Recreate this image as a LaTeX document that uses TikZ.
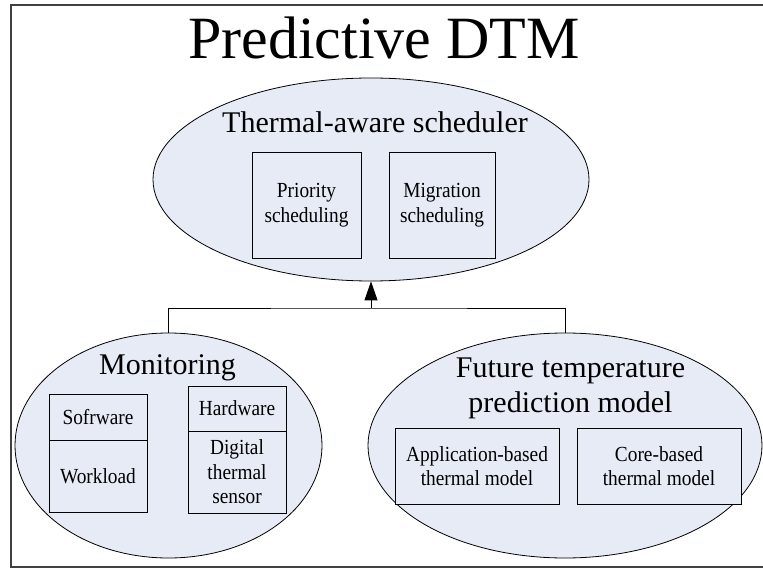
\documentclass[tikz,border=0pt]{standalone}
\usepackage{fontspec}
\setmainfont{Liberation Serif}
\newfontfamily\narrowfont{Liberation Serif}[FakeStretch=0.9]
\usetikzlibrary{arrows.meta, shapes.geometric}
\definecolor{paleblue}{RGB}{230,235,246}
\newcommand{\titlesize}{\fontsize{60}{66}\selectfont}
\newcommand{\headsize}{\fontsize{30}{35}\selectfont}
\newcommand{\boxsize}{\narrowfont\fontsize{21.5}{24.5}\selectfont}

\begin{document}
\begin{tikzpicture}[x=1pt, y=-1pt,
  blob/.style={ellipse, draw, fill=paleblue, inner sep=0pt, line width=0.8pt},
  box/.style={rectangle, draw, fill=paleblue, inner sep=0pt, align=center, line width=0.8pt, font=\boxsize},
  head/.style={anchor=base, font=\headsize, align=center}]
  \useasboundingbox (0,0) rectangle (763,569);
  \draw[line width=1.4pt, black!75] (770,5) -- (11,5) -- (11,567) -- (770,567);
  \node[anchor=base, font=\titlesize] (title) at (384,59) {Predictive DTM};
  % scheduler
  \node[blob, minimum width=436pt, minimum height=203pt] (sched) at (371,179.5) {};
  \node[head] (schedtxt) at (375,133) {Thermal-aware scheduler};
  \node[box, minimum width=109pt, minimum height=106pt] (prio) at (306.5,205) {Priority\\scheduling};
  \node[box, minimum width=106pt, minimum height=106pt] (migr) at (442,205) {Migration\\scheduling};
  % monitoring
  \node[blob, minimum width=307pt, minimum height=225pt] (mon) at (168.5,445.5) {};
  \node[head] (montxt) at (167.5,374) {Monitoring};
  \node[box, minimum width=98pt, minimum height=46pt] (soft) at (98,417) {Sofrware};
  \node[box, minimum width=98pt, minimum height=72pt] (work) at (98,476) {Workload};
  \node[box, minimum width=98pt, minimum height=45pt] (hard) at (237,408.5) {Hardware};
  \node[box, minimum width=98pt, minimum height=82pt] (sensor) at (237,472) {Digital\\thermal\\sensor};
  % prediction model
  \node[blob, minimum width=394pt, minimum height=225pt] (fut) at (565,445.5) {};
  \node[head] (futtxt) at (570.5,412) {Future temperature\\prediction model};
  \node[box, minimum width=164pt, minimum height=76pt] (app) at (477,466) {Application-based\\thermal model};
  \node[box, minimum width=164pt, minimum height=76pt] (core) at (659,466) {Core-based\\thermal model};
  % connectors
  \coordinate (join) at (371,308);
  \draw[line width=0.8pt] (mon.north) |- (join) -| (fut.north);
  \draw[-{Triangle[length=19pt,width=13pt]}, line width=0.8pt] (join) -- (sched.south);
\end{tikzpicture}
\end{document}
